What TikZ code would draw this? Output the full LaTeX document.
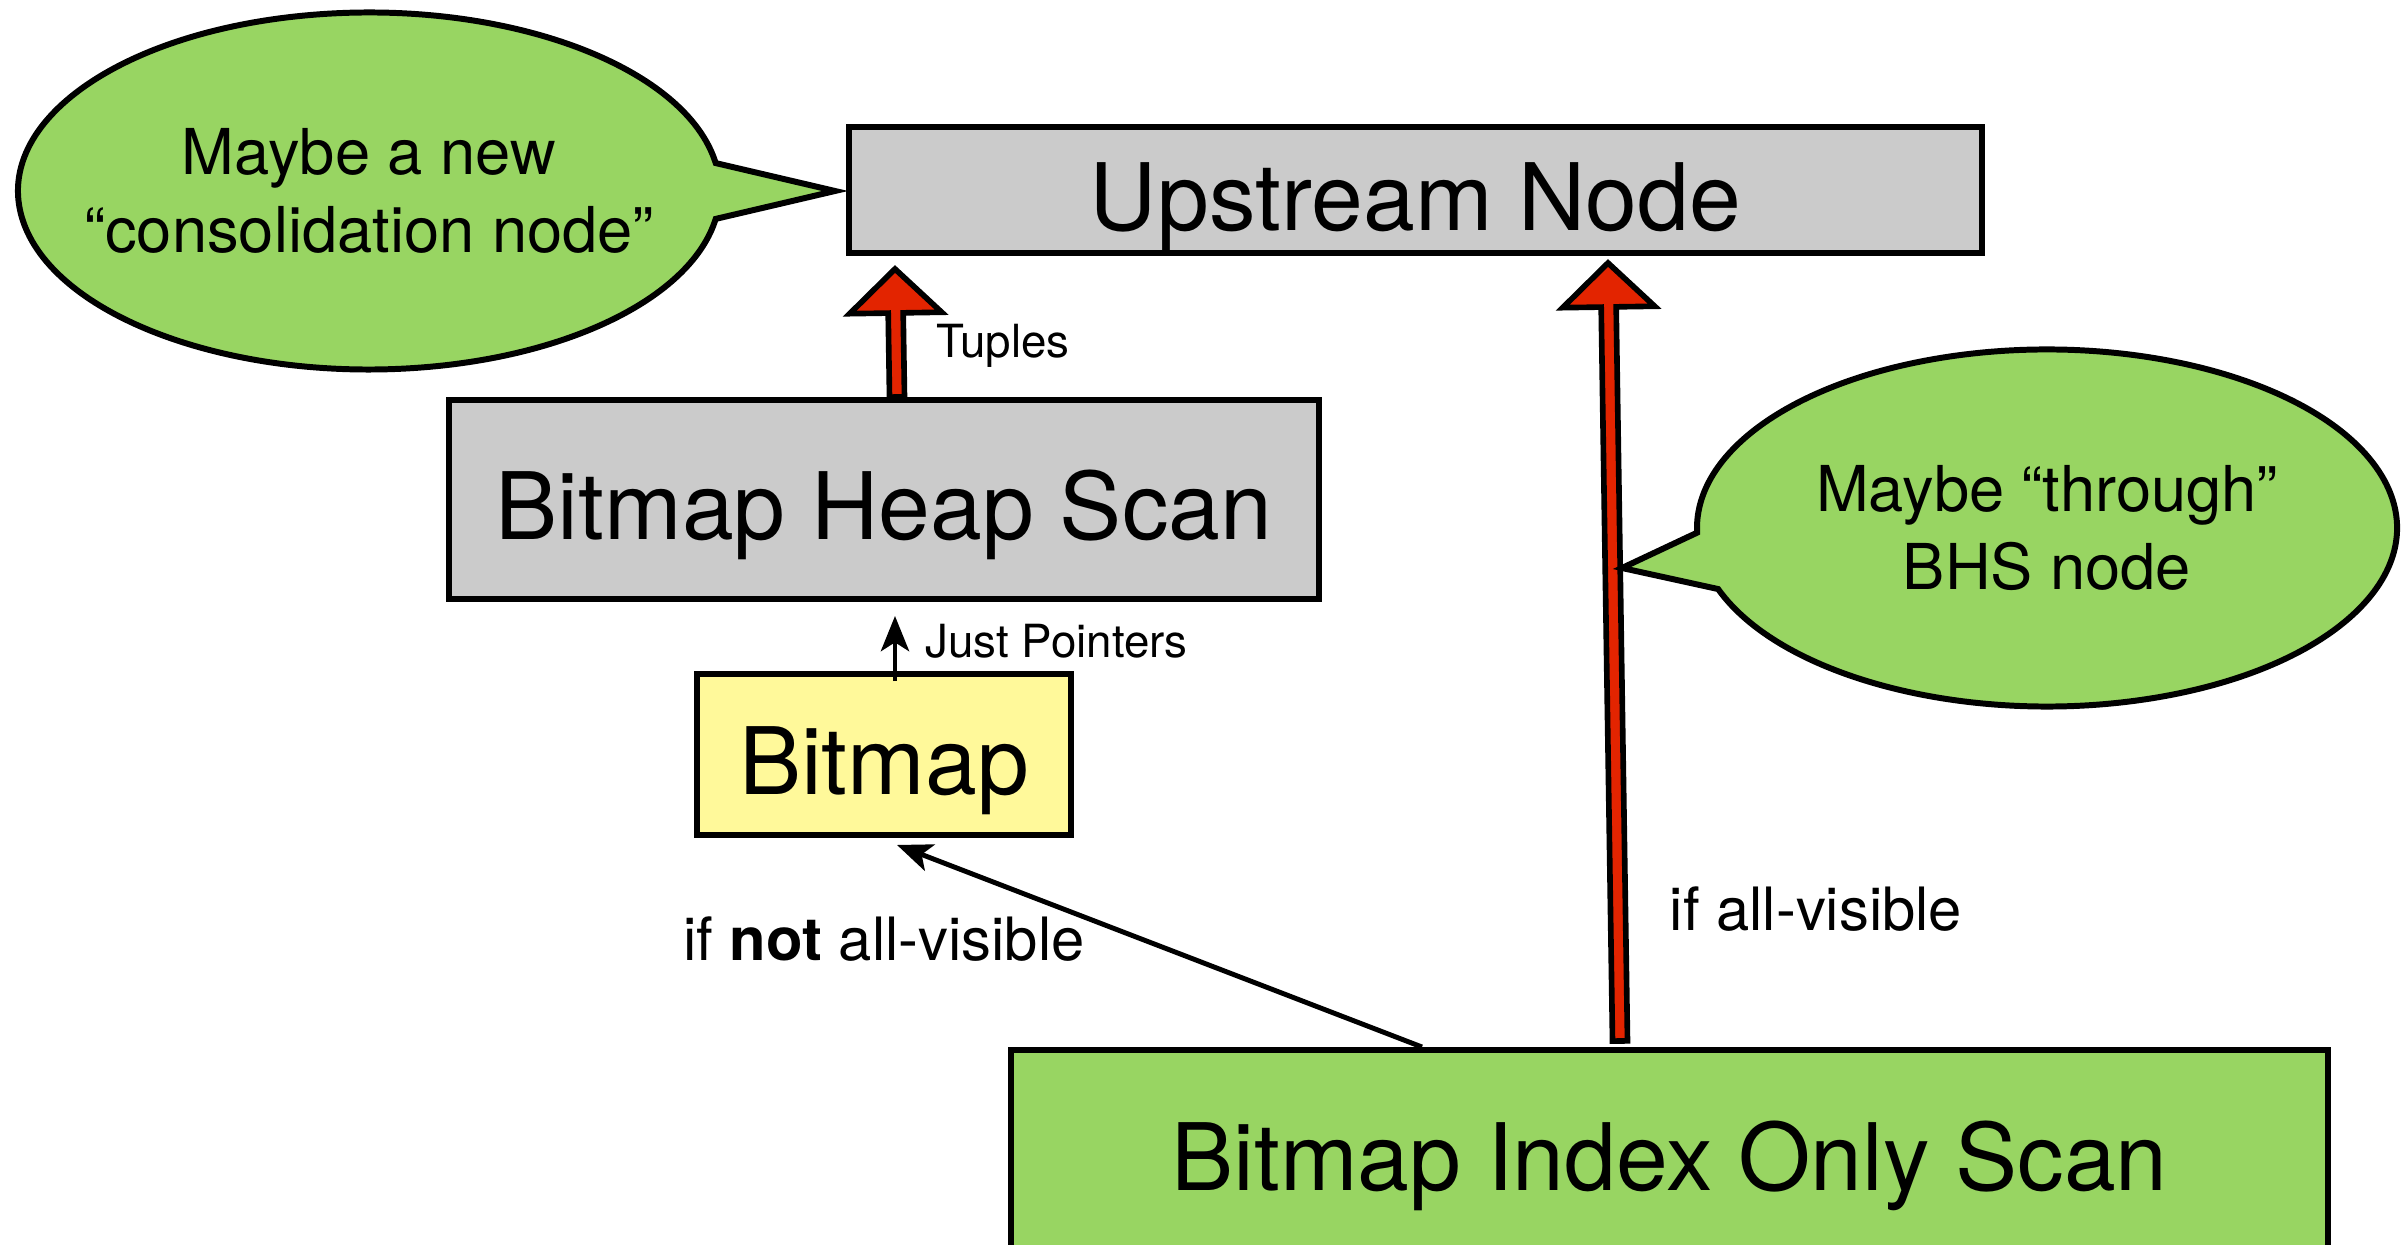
\documentclass[tikz,border=0pt]{standalone}
\usepackage{fontspec}
\setmainfont{TeX Gyre Heros}
\usetikzlibrary{calc,arrows.meta}

\definecolor{boxgray}{RGB}{203,203,203}
\definecolor{notegreen}{RGB}{152,213,98}
\definecolor{bmyellow}{RGB}{255,249,154}
\definecolor{fatred}{RGB}{227,36,0}

% 粗箭头：#1 起点，#2 终点
\newcommand{\fatarrow}[2]{%
    \coordinate (hb) at ($(#2)!0.44cm!(#1)$);
    \filldraw[fill=fatred, line width=1.6pt, line join=miter]
        ($(#1)!0.075cm!90:(#2)$) -- ($(hb)!0.075cm!90:(#2)$)
        -- ($(hb)!0.46cm!90:(#2)$) -- (#2)
        -- ($(hb)!0.46cm!-90:(#2)$) -- ($(hb)!0.075cm!-90:(#2)$)
        -- ($(#1)!0.075cm!-90:(#2)$) -- cycle;
}

\begin{document}
\begin{tikzpicture}[
    plan/.style={draw, line width=1.7pt, inner sep=0pt, text height=23pt, text depth=0pt,
        font=\fontsize{26.5}{30}\selectfont},
    note/.style={align=center, font=\fontsize{18}{22}\selectfont},
    tag/.style={font=\fontsize{13}{15}\selectfont},
    cond/.style={font=\fontsize{17}{20}\selectfont},
    ptr/.style={line width=1.4pt, -{Stealth[length=10pt, width=8pt, inset=2.5pt]}}
]
    \useasboundingbox (0,0) rectangle (24.03,-12.45);

    % 计划节点
    \node[plan, fill=boxgray, minimum width=11.33cm, minimum height=1.26cm] (up) at (14.155,-1.90) {Upstream Node};
    \node[plan, fill=boxgray, minimum width=8.70cm, minimum height=1.99cm] (bhs) at (8.84,-4.995) {Bitmap Heap Scan};
    \node[plan, fill=bmyellow, minimum width=3.74cm, minimum height=1.61cm] (bm) at (8.84,-7.545) {Bitmap};
    \node[plan, fill=notegreen, minimum width=13.17cm, minimum height=2.0cm] (bios) at (16.695,-11.50) {Bitmap Index Only Scan};

    % 红色粗箭头
    \coordinate (a1s) at ([xshift=0.13cm]bhs.north);
    \coordinate (a1e) at ([xshift=-5.205cm, yshift=-0.13cm]up.south);
    \fatarrow{a1s}{a1e}
    \coordinate (a2s) at ([xshift=-0.495cm, yshift=0.06cm]bios.north);
    \coordinate (a2e) at ([xshift=1.925cm, yshift=-0.07cm]up.south);
    \fatarrow{a2s}{a2e}
    \node[tag, anchor=west] (tup) at (9.24,-3.46) {Tuples};

    % 细箭头
    \draw[ptr] ([xshift=0.11cm, yshift=-0.10cm]bm.north) -- ([xshift=0.11cm, yshift=-0.14cm]bhs.south);
    \node[tag, anchor=west] (jp) at (9.13,-6.41) {Just Pointers};
    \draw[ptr] ([xshift=-2.475cm]bios.north) -- ([xshift=0.13cm, yshift=-0.07cm]bm.south);
    \node[cond] (nv) at (8.84,-9.39) {if \textbf{not} all-visible};
    \node[cond] (av) at (18.16,-9.09) {if all-visible};

    % 左边的气泡
    \coordinate (c1) at (3.69,-1.91);
    \coordinate (tip1) at ([xshift=-0.11cm, yshift=-0.01cm]up.west);
    \filldraw[fill=notegreen, line width=1.7pt, line join=miter]
        (c1) ++(9:3.51cm and 1.785cm)
        arc[start angle=9, end angle=351, x radius=3.51cm, y radius=1.785cm]
        -- (tip1) -- cycle;
    \node[note] (n1) at (c1) {Maybe a new\\“consolidation node”};

    % 右边的气泡
    \coordinate (c2) at (20.47,-5.28);
    \coordinate (tip2) at (16.22,-5.68);
    \filldraw[fill=notegreen, line width=1.7pt, line join=miter]
        (c2) ++(200:3.50cm and 1.785cm)
        arc[start angle=200, end angle=541.5, x radius=3.50cm, y radius=1.785cm]
        -- (tip2) -- cycle;
    \node[note] (n2) at (c2) {Maybe “through”\\BHS node};
\end{tikzpicture}
\end{document}
